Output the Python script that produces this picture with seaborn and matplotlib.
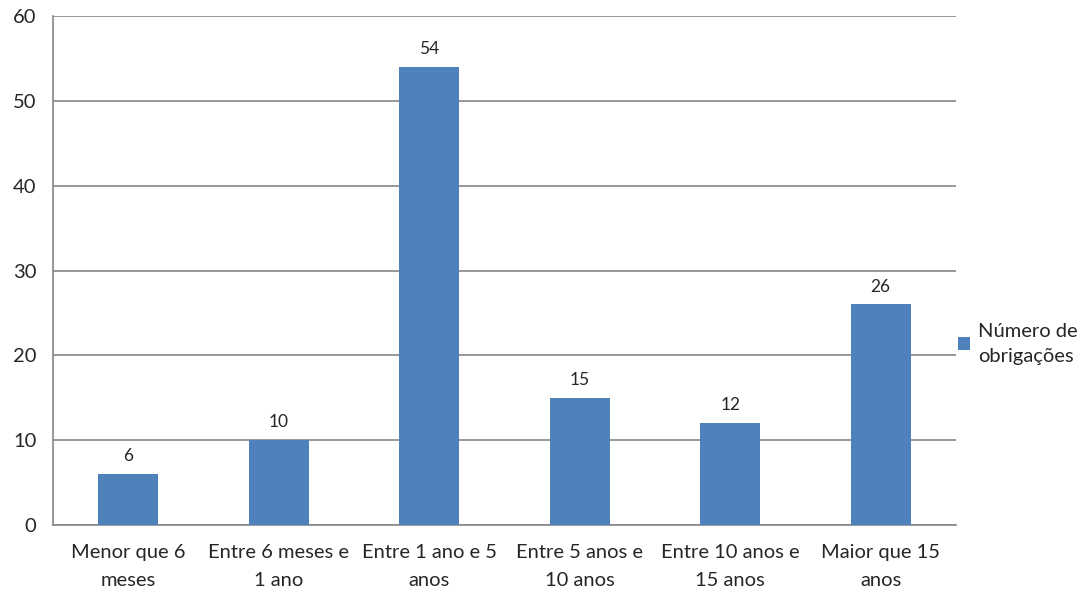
import matplotlib
matplotlib.use("Agg")
import matplotlib.pyplot as plt
from matplotlib.patches import Patch
import seaborn as sns
import pandas as pd
import numpy as np

categorias = ["Menor que 6\nmeses", "Entre 6 meses e\n1 ano", "Entre 1 ano e 5\nanos",
              "Entre 5 anos e\n10 anos", "Entre 10 anos e\n15 anos", "Maior que 15\nanos"]
obrigacoes = [6, 10, 54, 15, 12, 26]
serie = "Número de\nobrigações"

df = pd.DataFrame({"categoria": categorias, "valor": obrigacoes})

sns.set_style("white")
plt.rcParams["font.family"] = ["Lato", "DejaVu Sans"]

fig = plt.figure(figsize=(10.83, 5.98), dpi=100)
ax = fig.add_axes([0.0489, 0.1221, 0.8338, 0.8511])

cor = "#4F81BD"
grid = "#868686"
sns.barplot(data=df, x="categoria", y="valor", color=cor, width=0.4,
            saturation=1, linewidth=0, ax=ax, zorder=3)

ax.set_ylim(0, 60)
ax.set_xlim(-0.5, len(categorias) - 0.5)
ax.set_yticks(range(0, 61, 10))
ax.yaxis.grid(True, color=grid, linewidth=1.2, zorder=0)
ax.set_axisbelow(True)
ax.set_xlabel("")
ax.set_ylabel("")

for s in ["top", "right"]:
    ax.spines[s].set_visible(False)
for s in ["left", "bottom"]:
    ax.spines[s].set_color(grid)
    ax.spines[s].set_linewidth(1.2)

ax.tick_params(axis="y", length=6, color=grid, width=1.2, labelsize=14.5, pad=6)
ax.tick_params(axis="x", which="major", length=0, labelsize=14.5, pad=14)
ax.set_xticks(np.arange(-0.5, len(categorias)), minor=True)
ax.tick_params(axis="x", which="minor", length=6, color=grid, width=1.2)
for lbl in ax.get_xticklabels():
    lbl.set_linespacing(1.75)

for i, v in enumerate(obrigacoes):
    ax.annotate(str(v), (i, v), xytext=(0, 7), textcoords="offset points",
                ha="center", va="bottom", fontsize=12.5)

handle = Patch(facecolor=cor, edgecolor="none")
leg = fig.legend([handle], [serie], loc="center left", bbox_to_anchor=(0.868, 0.425),
                 frameon=False, fontsize=14.5, handlelength=0.6, handleheight=0.6,
                 handletextpad=0.4, labelspacing=0.2)
for t in leg.get_texts():
    t.set_linespacing(1.6)

fig.savefig("out.png", dpi=100)
